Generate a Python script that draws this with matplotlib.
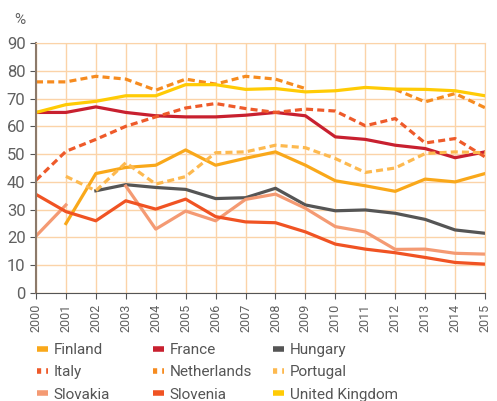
import numpy as np
import matplotlib
matplotlib.use("Agg")
import matplotlib.pyplot as plt
from matplotlib.lines import Line2D

nan = np.nan
years = list(range(2000, 2016))

finland = [nan, 25, 43, 45.2, 46, 51.5, 46, 48.5, 50.8, 46, 40.4, 38.6, 36.6, 41, 40, 43]
france = [65, 65, 67, 65, 63.8, 63.4, 63.4, 64, 65, 63.8, 56.2, 55.3, 53.2, 52, 48.7, 50.8]
hungary = [nan, nan, 36.8, 39, 38, 37.3, 34, 34.3, 37.7, 31.7, 29.6, 29.9, 28.7, 26.5, 22.7, 21.5]
italy = [40.6, 51, 55.3, 60, 63.4, 66.6, 68.2, 66.4, 65, 66.2, 65.5, 60.2, 62.8, 54, 55.6, 49]
netherlands = [76, 76, 78, 77, 73, 77, 75.2, 78, 77, 73.6, nan, nan, 73.3, 68.8, 71.8, 66.7]
portugal = [nan, 42, 36.8, 46.9, 39.2, 41.9, 50.5, 50.8, 53.2, 52.3, 48.4, 43.4, 45, 50.2, 50.8, 50.5]
slovakia = [20.5, 31.7, nan, 38.5, 23, 29.5, 26, 33.7, 35.6, 30.5, 23.9, 22, 15.7, 15.8, 14.3, 14]
slovenia = [35.5, 29.3, 26, 33.2, 30.2, 33.8, 27.5, 25.6, 25.3, 22, 17.6, 15.8, 14.5, 12.8, 11, 10.4]
uk = [65, 67.8, 69, 71, 71, 75, 75, 73.3, 73.6, 72.4, 72.8, 74, 73.4, 73.3, 72.8, 71]

series = [
    ("Finland", finland, "#F9A81A", "-"),
    ("France", france, "#C8202F", "-"),
    ("Hungary", hungary, "#555555", "-"),
    ("Italy", italy, "#EE5A2A", "--"),
    ("Netherlands", netherlands, "#F68B1F", "--"),
    ("Portugal", portugal, "#FDB94F", "--"),
    ("Slovakia", slovakia, "#F49A73", "-"),
    ("Slovenia", slovenia, "#F05323", "-"),
    ("United Kingdom", uk, "#FFCB05", "-"),
]

plt.rcParams['font.family'] = ['Roboto', 'DejaVu Sans']

fig = plt.figure(figsize=(4.97, 4.01), dpi=100)
ax = fig.add_axes([0.0724, 0.2693, 0.9035, 0.6235])

proxies = []
for name, vals, col, ls in series:
    if ls == "--":
        ax.plot(years, vals, color=col, lw=2.3, ls=(0, (2.2, 1.3)), dash_capstyle='butt')
        proxies.append(Line2D([], [], color=col, lw=4, ls=(0, (0.75, 0.9)),
                              dash_capstyle='butt'))
    else:
        ax.plot(years, vals, color=col, lw=2.3, ls="-")
        proxies.append(Line2D([], [], color=col, lw=4, ls="-", solid_capstyle='butt'))

ax.set_xlim(2000, 2015)
ax.set_ylim(0, 90)
ax.set_xticks(years)
ax.set_xticklabels([str(y) for y in years], rotation=90)
ax.set_yticks(range(0, 91, 10))
ax.grid(True, color="#FBD3A8", lw=1)
ax.set_axisbelow(True)
for s in ["top", "right"]:
    ax.spines[s].set_color("#FBD3A8")
ax.spines["left"].set_color("#8C7A6B")
ax.spines["left"].set_linewidth(1.5)
ax.spines["bottom"].set_color("#555555")
ax.tick_params(axis="y", colors="#606060", labelsize=12, length=4, color="#555555")
ax.tick_params(axis="x", colors="#606060", labelsize=9, length=4, color="#555555")
ax.text(-0.049, 1.065, "%", transform=ax.transAxes, ha="left", va="bottom",
        fontsize=11, color="#606060")

# legend: one column per legend so columns sit where the reference has them
col_x = [0.0744, 0.3078, 0.5493]
for c in range(3):
    idx = [c, c + 3, c + 6]
    fig.legend([proxies[i] for i in idx], [series[i][0] for i in idx],
               loc="upper left", bbox_to_anchor=(col_x[c], 0.1446), frameon=False,
               fontsize=11, labelcolor="#555555", handlelength=0.75, handletextpad=0.35,
               labelspacing=0.55, borderaxespad=0, borderpad=0)

fig.savefig("out.png", dpi=100)
